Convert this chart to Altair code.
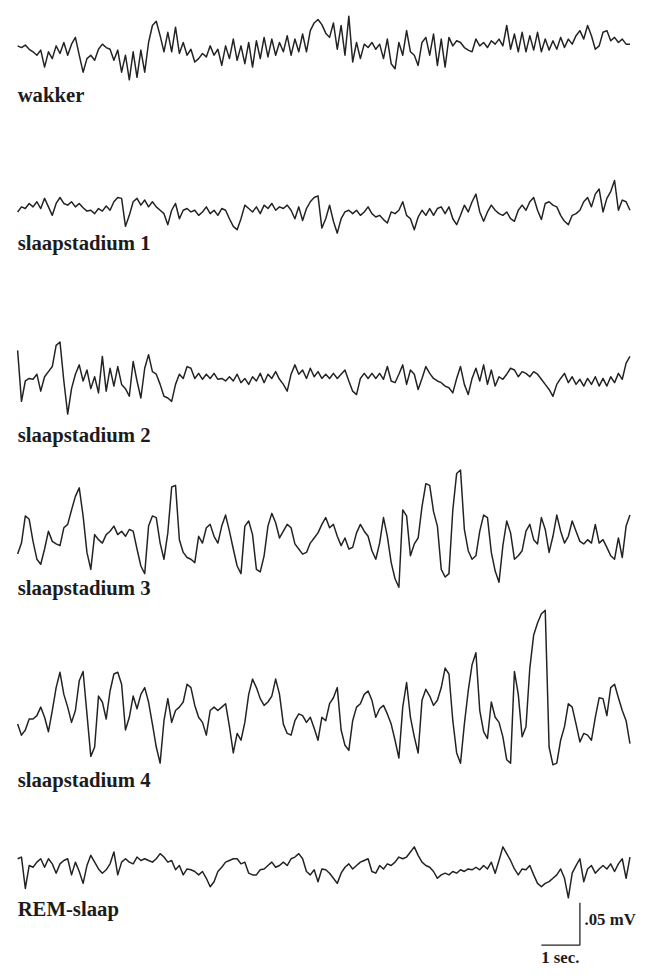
import altair as alt
import pandas as pd

# ---------------- data (microvolts) ----------------
labels = ["wakker", "slaapstadium 1", "slaapstadium 2",
          "slaapstadium 3", "slaapstadium 4", "REM-slaap"]

wakker = [2, 0, 3, -2, -5, -9, -3, -23, -5, -13,
          2, -7, 6, -9, 4, 12, -9, -29, -13, -9,
          -15, -2, 4, 0, -2, -15, -3, -29, -9, -38,
          -5, -35, -3, -29, 6, 26, 31, 14, -5, 18,
          -5, 24, -7, 6, -9, -2, -17, -13, -7, -11,
          2, -9, -2, -21, 2, -13, 10, -15, 2, -19,
          6, -23, 8, -13, 12, -11, 10, -9, 6, -5,
          14, -9, 10, -5, 16, -5, 20, 29, 33, 27,
          17, 12, 29, -2, 26, -9, 37, -17, 6, -13,
          4, 0, 6, -2, 4, -13, 10, -19, -25, 6,
          -9, 20, -5, -9, -21, 6, 12, -9, 16, -21,
          10, -23, 12, 2, 8, 6, 0, -3, -5, 10,
          2, 6, 0, 8, 4, 10, 2, 26, -2, 16,
          -5, 18, -5, 14, -3, 18, -5, 10, -3, 8,
          -2, 12, 0, 10, 4, 14, 20, 10, 26, 14,
          -2, 2, 18, 20, 8, 12, 6, 10, 4, 4]

stadium1 = [-4, 2, 0, 6, 2, 8, 0, 12, 2, -8,
            6, 13, 6, 4, 8, 2, 6, 1, -3, -2,
            -6, 0, -3, 3, -2, 8, 13, 12, -21, -8,
            8, 12, 4, 10, 2, 8, 2, -2, -6, -19,
            -2, 6, -12, -2, 0, -4, -2, -8, -4, 2,
            -6, -2, -8, 0, -2, -12, -21, -25, -12, 4,
            0, -4, 2, -6, 4, 0, 6, -2, 2, 0,
            4, -2, -12, 2, -14, 0, 8, 13, 15, -23,
            -12, 4, -15, -29, -12, -4, -2, -6, -2, -8,
            -4, 2, -6, -10, -8, -13, -17, -4, -6, -2,
            8, -8, -12, -25, -10, -2, -8, 0, -8, 0,
            2, -6, 2, -12, -19, -8, 4, -4, 8, 17,
            -4, -15, -4, 4, -2, -6, -8, -4, -12, -15,
            -2, 4, -2, 8, 13, -2, -13, 6, 8, 4,
            2, -8, -15, -19, -8, -6, -2, 8, 13, 2,
            17, 23, -4, 12, 20, 33, -2, 10, 8, -2]

stadium2 = [33, -27, -3, 0, -1, 5, -15, 2, 8, 14,
            39, 43, -3, -42, -12, 5, 16, -3, 10, -12,
            2, -17, 26, -15, 12, -9, 14, -7, -12, -21,
            20, -3, -23, 12, 28, 8, 5, -7, -21, -23,
            -27, -7, 5, 0, 14, 12, 0, 6, -1, 5,
            0, 6, -1, 0, -3, 2, -3, 5, -5, 0,
            -7, 2, -3, 6, -5, 5, 0, 8, -1, -7,
            -15, 5, 16, 5, 10, 0, 12, 2, 8, 0,
            5, 0, 6, 0, 5, 10, -3, -15, -19, 0,
            6, 0, 6, 0, 6, -1, 14, -3, -5, 5,
            16, -7, 10, 5, -13, 0, 14, 6, 0, -3,
            -5, -9, -11, -17, 0, 14, -7, -19, 0, 12,
            -3, 16, -7, 10, -9, 2, -1, 5, 12, 10,
            2, 8, 6, 2, 8, 5, -1, -7, -13, -21,
            -7, 0, 6, -5, 2, -7, -1, -9, 0, -7,
            2, -9, 0, -9, 2, -5, 6, -1, 18, 26]

stadium3 = [-29, -16, 16, 12, -14, -35, -41, -23, -2, -14,
            -17, -19, 2, 6, 23, 39, 49, 16, -27, -47,
            -6, -12, -16, -6, -2, 4, -6, -2, -8, 0,
            -2, -23, -43, -52, 4, 16, 14, -16, -35, -4,
            50, 52, -12, -27, -33, -35, -39, -8, -16, 2,
            6, -8, -16, 4, 17, -2, -23, -43, -52, 4,
            10, -6, -47, -50, -31, 4, 19, 8, -10, -2,
            6, 2, -17, -23, -29, -27, -16, -10, -4, 6,
            14, 2, 6, -8, -19, -10, -23, -21, -4, 6,
            -2, -8, -25, -35, -16, 14, -8, -39, -58, -68,
            23, 16, -31, -17, -10, 27, 54, 52, 21, 4,
            -47, -56, -52, 23, 66, 70, 0, -25, -35, -31,
            -2, 17, 14, -27, -49, -62, -19, 10, -4, -35,
            -31, -25, -2, 6, -12, -17, 14, 0, -27, -8,
            17, -2, -16, -8, 10, -2, -14, -17, -12, -16,
            6, -16, -12, -21, -31, -35, -10, -33, 4, 17]

stadium4 = [-14, -27, -21, -8, -8, -4, 6, -6, -23, 2,
            29, 47, 21, 6, -12, 2, 37, 48, -2, -52,
            -41, 19, 12, -8, 25, 45, 47, 33, -21, -6,
            19, 4, 21, 29, 12, -14, -41, -60, -10, 16,
            -12, 2, 6, 12, 33, 29, 8, -6, -12, -27,
            2, 6, 2, 6, 10, -17, -48, -25, -33, -12,
            21, 39, 29, 16, 8, 12, 19, 39, 21, -14,
            -25, -27, -10, -2, -4, -12, -6, -19, -33, -6,
            -10, 10, 17, 29, -21, -39, -45, -10, 6, 10,
            21, 25, 14, -6, 4, 8, -2, -14, -33, -54,
            6, 35, -6, -29, -48, 14, 27, 19, 8, 14,
            29, 52, 45, -10, -48, -60, -14, 25, 56, 70,
            2, -23, -31, 12, -6, -12, -29, -56, -60, 48,
            21, -29, -17, 52, 91, 105, 116, 120, -41, -62,
            -60, -33, -17, 10, 6, -14, -35, -25, -27, -33,
            -6, 17, 16, -4, 29, 33, 17, 2, -10, -37]

rem = [10, 12, -25, 2, 0, 6, 10, 0, 10, 4,
       -7, 4, 8, 10, -9, 6, -5, -19, 2, 14,
       6, -2, -7, -3, 4, 18, -9, 6, 10, 6,
       4, 12, 8, 10, 8, 6, 10, 16, 12, 6,
       8, -3, 2, -9, -2, -3, -5, -9, -5, -13,
       -23, -17, -5, 0, 6, 8, 10, 10, 4, 6,
       -7, -9, -9, -3, -2, 2, 6, 0, 2, 6,
       2, 10, 12, 16, 10, -5, -9, -3, -17, -2,
       -3, -7, -13, -19, -7, 0, 4, -2, 2, 6,
       8, 10, -5, -7, 2, -2, 4, 2, 6, 12,
       10, 12, 18, 24, 14, 6, 2, 0, -5, -13,
       -9, -7, -9, -5, -7, -3, -5, -2, -3, 0,
       -3, 2, -2, 6, -7, 8, 24, 16, 8, -2,
       -9, -2, -3, 2, -9, -19, -23, -19, -17, -13,
       -9, -2, -13, -36, -7, 2, 10, -17, -2, 2,
       -7, -2, 2, -2, 4, -5, 4, 10, -13, 12]

series = [wakker, stadium1, stadium2, stadium3, stadium4, rem]

# scale-bar values
scalebar_sec = 1.0
scalebar_uv = 50.0
scalebar_texts = [".05 mV", "1 sec."]

# ---------------- layout ----------------
T0, DT = 0.25, 0.1                 # seconds: start and sample step
W, H = 639, 963
PX_PER_SEC = 39.0
Y_MAX = 1120.0                     # microvolts shown over the full height
trace_offsets = [1080.5, 890.9, 690.8, 512.9, 297.7, 115.1]
label_offsets = [1016.5, 842.0, 616.4, 436.1, 209.3, 58.1]
bar_t_end, bar_y0 = 14.85, 23.3

rows = []
for name, base, vals in zip(labels, trace_offsets, series):
    for i, v in enumerate(vals):
        rows.append({"trace": name, "t": round(T0 + i * DT, 3), "uv": base + v})
df = pd.DataFrame(rows)

lab_df = pd.DataFrame({"label": labels, "t": [T0] * len(labels), "uv": label_offsets})

xs = alt.Scale(domain=[0, W / PX_PER_SEC], nice=False, zero=False)
ys = alt.Scale(domain=[0, Y_MAX], nice=False, zero=False)
INK = "#222222"

lines = alt.Chart(df).mark_line(color=INK, strokeWidth=1.5, strokeJoin="round").encode(
    x=alt.X("t:Q", scale=xs, axis=None),
    y=alt.Y("uv:Q", scale=ys, axis=None),
    detail="trace:N",
    order="t:Q",
)

texts = alt.Chart(lab_df).mark_text(
    align="left", baseline="alphabetic", font="Liberation Serif",
    fontWeight="bold", fontSize=21, color="#1c1c1c"
).encode(
    x=alt.X("t:Q", scale=xs, axis=None),
    y=alt.Y("uv:Q", scale=ys, axis=None),
    text="label:N",
)

vbar_df = pd.DataFrame({"t": [bar_t_end], "y0": [bar_y0], "y1": [bar_y0 + scalebar_uv]})
hbar_df = pd.DataFrame({"t0": [bar_t_end - scalebar_sec], "t1": [bar_t_end], "y0": [bar_y0]})

vbar = alt.Chart(vbar_df).mark_rule(color=INK, strokeWidth=1.3).encode(
    x=alt.X("t:Q", scale=xs, axis=None),
    y=alt.Y("y0:Q", scale=ys, axis=None),
    y2="y1:Q",
)
hbar = alt.Chart(hbar_df).mark_rule(color=INK, strokeWidth=1.3).encode(
    x=alt.X("t0:Q", scale=xs, axis=None),
    x2="t1:Q",
    y=alt.Y("y0:Q", scale=ys, axis=None),
)

sb_df = pd.DataFrame({
    "text": scalebar_texts,
    "t": [bar_t_end + 0.12, bar_t_end - scalebar_sec / 2 - 0.01],
    "uv": [bar_y0 + 30.0, 2.3],
})
mv_text = alt.Chart(sb_df.iloc[[0]]).mark_text(
    align="left", baseline="middle", font="Liberation Serif",
    fontWeight="bold", fontSize=17, color="#1c1c1c"
).encode(
    x=alt.X("t:Q", scale=xs, axis=None),
    y=alt.Y("uv:Q", scale=ys, axis=None),
    text="text:N",
)
sec_text = alt.Chart(sb_df.iloc[[1]]).mark_text(
    align="center", baseline="alphabetic", font="Liberation Serif",
    fontWeight="bold", fontSize=17, color="#1c1c1c"
).encode(
    x=alt.X("t:Q", scale=xs, axis=None),
    y=alt.Y("uv:Q", scale=ys, axis=None),
    text="text:N",
)

chart = alt.layer(lines, texts, vbar, hbar, mv_text, sec_text).properties(
    width=W, height=H, padding=0,
    autosize=alt.AutoSizeParams(type="none"),
    background="white",
).configure_view(stroke=None)

chart.save("out.html", embed_options={"renderer": "svg", "actions": False})
